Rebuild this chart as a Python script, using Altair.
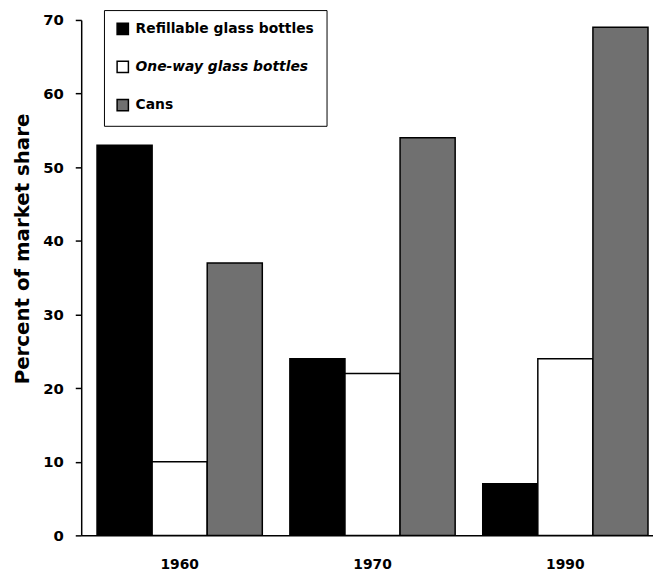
import altair as alt
import pandas as pd

years = ["1960", "1970", "1990"]
series = ["Refillable glass bottles", "One-way glass bottles", "Cans"]
refillable = [53, 24, 7]
oneway = [10, 22, 24]
cans = [37, 54, 69]
y_ticks = [0, 10, 20, 30, 40, 50, 60, 70]

rows = []
for i, yr in enumerate(years):
    for s, vals in zip(series, [refillable, oneway, cans]):
        rows.append({"year": yr, "series": s, "share": vals[i]})
df = pd.DataFrame(rows)

FONT = "DejaVu Sans"

chart = alt.Chart(df).mark_bar(stroke="black", strokeWidth=1.5).encode(
    x=alt.X("year:N", sort=years, title=None,
            scale=alt.Scale(paddingInner=0.143, paddingOuter=0.054, align=0.76),
            axis=alt.Axis(labelAngle=0, ticks=False, domainColor="black", domainWidth=1.5,
                          labelFont=FONT, labelFontWeight="bold", labelFontSize=14,
                          labelColor="black", labelPadding=22)),
    xOffset=alt.XOffset("series:N", sort=series, scale=alt.Scale(paddingInner=0, paddingOuter=0)),
    y=alt.Y("share:Q", title="Percent of market share",
            scale=alt.Scale(domain=[0, 70], nice=False),
            axis=alt.Axis(values=y_ticks, grid=False, domainColor="black", domainWidth=1.5,
                          tickColor="black", tickWidth=1.5, tickSize=6,
                          labelFont=FONT, labelFontWeight="bold", labelFontSize=15,
                          labelColor="black", labelPadding=12,
                          titleFont=FONT, titleFontWeight="bold", titleFontSize=20,
                          titleColor="black", titlePadding=10, titleY=231)),
    color=alt.Color("series:N", sort=series,
                    scale=alt.Scale(domain=series, range=["black", "white", "#707070"]),
                    legend=alt.Legend(title=None, orient="none", legendX=23, legendY=-10,
                                      strokeColor="black", padding=12, fillColor="white",
                                      symbolType="square", symbolSize=130,
                                      symbolStrokeColor="black", symbolStrokeWidth=1.5,
                                      labelFont=FONT, labelFontWeight="bold", labelFontSize=14,
                                      labelColor="black", labelOffset=6, rowPadding=20.5,
                                      labelLimit=400,
                                      labelFontStyle={"expr": "datum.label == 'One-way glass bottles' ? 'italic' : 'normal'"})),
).properties(
    width=578, height=521,
    autosize=alt.AutoSizeParams(type="none"),
    padding={"left": 74, "top": 9, "right": 0, "bottom": 40},
).configure_view(stroke=None)

chart.save("out.html", embed_options={"renderer": "svg", "actions": False})
